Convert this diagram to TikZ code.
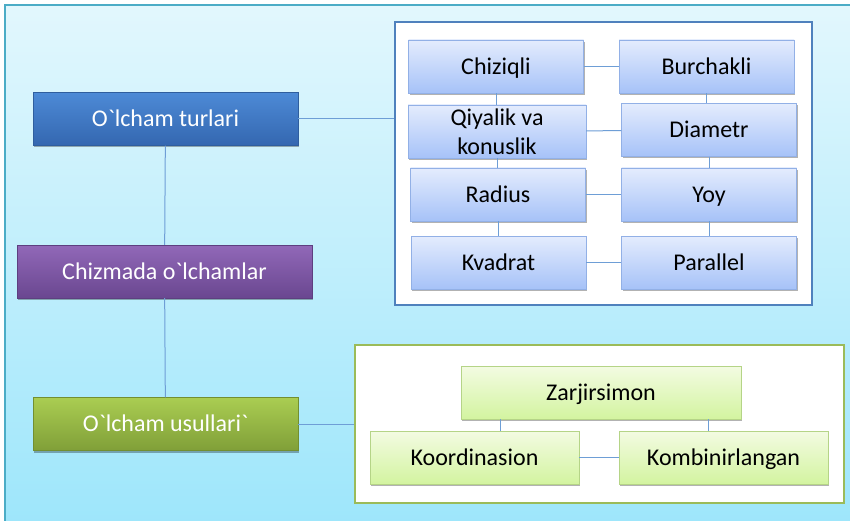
\documentclass[tikz,border=0pt]{standalone}
\usepackage{fontspec}
\setmainfont{Carlito}
\usepackage{xcolor}
\usetikzlibrary{positioning, shadows}
\definecolor{bgtop}{HTML}{E2F7FD}
\definecolor{bgbottom}{HTML}{9DE6FB}
\definecolor{bgline}{HTML}{4BACC6}
\definecolor{linkblue}{HTML}{6E9ED6}
\definecolor{panelblue}{HTML}{4F81BD}
\definecolor{panelgreen}{HTML}{9BBB59}
% main boxes
\definecolor{bluetop}{HTML}{4D8AD6}
\definecolor{bluebottom}{HTML}{3467B0}
\definecolor{blueline}{HTML}{2F5E9E}
\definecolor{purpletop}{HTML}{9168B8}
\definecolor{purplebottom}{HTML}{6A4790}
\definecolor{purpleline}{HTML}{5E3F80}
\definecolor{greentop}{HTML}{AACD52}
\definecolor{greenbottom}{HTML}{809F38}
\definecolor{greenline}{HTML}{728F31}
% inner boxes
\definecolor{kindtop}{HTML}{E4ECFD}
\definecolor{kindbottom}{HTML}{A6C2F8}
\definecolor{kindline}{HTML}{92B0E6}
\definecolor{waytop}{HTML}{F3FBE2}
\definecolor{waybottom}{HTML}{D3F4A0}
\definecolor{wayline}{HTML}{B5D487}
\tikzset{
	box/.style={rectangle, draw, minimum height=53pt, inner sep=2pt, align=center,
		font=\fontsize{24}{29}\selectfont, text height=18pt, text depth=2.5pt,
		drop shadow={shadow xshift=1pt, shadow yshift=-2pt, opacity=.3, fill=black}},
	root/.style={box, text=white, top color=#1top, bottom color=#1bottom, draw=#1line},
	kind/.style={box, top color=kindtop, bottom color=kindbottom, draw=kindline,
		minimum width=175pt},
	way/.style={box, top color=waytop, bottom color=waybottom, draw=wayline,
		minimum width=209pt},
	panel/.style={rectangle, draw=#1, fill=white, line width=2pt, inner sep=0pt},
	link/.style={draw=linkblue, line width=1pt}
}

\begin{document}
\begin{tikzpicture}[x=1pt,y=-1pt]
	\useasboundingbox (0,0) rectangle (850,521);
	\clip (0,0) rectangle (850,521);
	% Background
	\path[top color=bgtop, bottom color=bgbottom, draw=bgline, line width=2pt]
		(5,5) rectangle (860,530);
	
	% Panels
	\node[panel=panelblue, minimum width=417pt, minimum height=283pt] (kindpanel) at (603.5,163.5) {};
	\node[panel=panelgreen, minimum width=489pt, minimum height=158pt, line width=2.5pt] (waypanel) at (599.5,424) {};
	
	% Main column
	\node[root=blue, minimum width=265pt] (turlari) at (165.5,119) {O\textasciigrave lcham turlari};
	\node[root=purple, minimum width=295pt] (chizmada) at (164.5,271.5) {Chizmada o\textasciigrave lchamlar};
	\node[root=green, minimum width=265pt] (usullari) at (165.5,424) {O\textasciigrave lcham usullari\textasciigrave};
	\draw[link] (turlari) -- (chizmada);
	\draw[link] (chizmada) -- (usullari);
	\draw[link] (turlari) -- (turlari -| kindpanel.west);
	\draw[link] (usullari) -- (usullari -| waypanel.west);
	
	% Kinds
	\node[kind] (chiziqli) at (496,66.5) {Chiziqli};
	\node[kind] (burchakli) at (706.5,66.5) {Burchakli};
	\node[kind, minimum width=178pt, inner ysep=0pt, text height=, text depth=] (qiyalik) at (497,131.5) {Qiyalik va\\konuslik};
	\node[kind] (diametr) at (709,130) {Diametr};
	\node[kind] (radius) at (498,194.5) {Radius};
	\node[kind] (yoy) at (709,194.5) {Yoy};
	\node[kind] (kvadrat) at (498.5,262.5) {Kvadrat};
	\node[kind] (parallel) at (709,262.5) {Parallel};
	\foreach \a/\b in {chiziqli/burchakli, qiyalik/diametr, radius/yoy, kvadrat/parallel}
	\draw[link] (\a) -- (\b);
	\foreach \a/\b in {chiziqli/qiyalik, qiyalik/radius, radius/kvadrat,
		burchakli/diametr, diametr/yoy, yoy/parallel}
	\draw[link] (\a.south) -- (\a.south |- \b.north);
	
	% Ways
	\node[way, minimum width=280pt] (zarjirsimon) at (601,392.5) {Zarjirsimon};
	\node[way] (koordinasion) at (474.5,457.5) {Koordinasion};
	\node[way] (kombinirlangan) at (723.5,457.5) {Kombinirlangan};
	\draw[link] (koordinasion) -- (kombinirlangan);
	\draw[link] ([xshift=26pt]koordinasion.north) -- ([xshift=26pt]koordinasion.north |- zarjirsimon.south);
	\draw[link] ([xshift=-15pt]kombinirlangan.north) -- ([xshift=-15pt]kombinirlangan.north |- zarjirsimon.south);
\end{tikzpicture}
\end{document}
